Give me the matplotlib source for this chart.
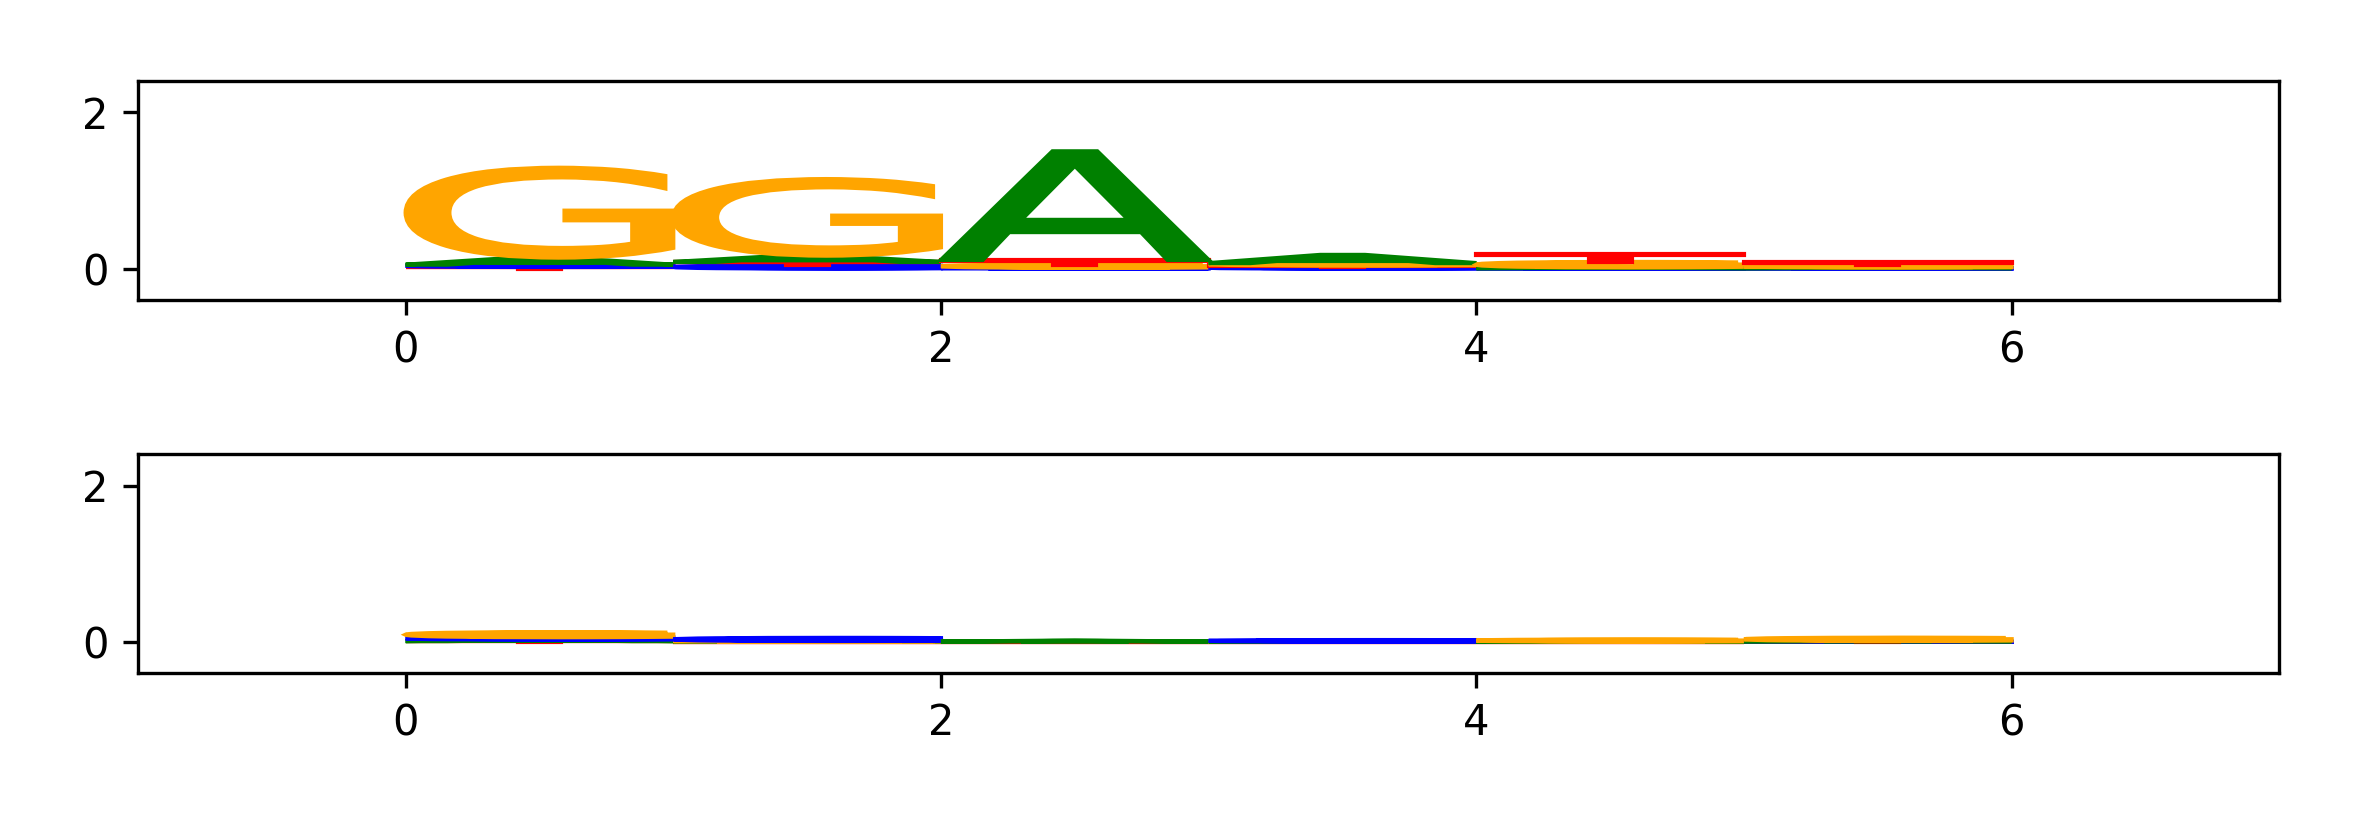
# sequence logo of two motifs, letters drawn as scaled text paths

import numpy as np
import matplotlib
matplotlib.use('Agg')
import matplotlib.pyplot as plt
from matplotlib.textpath import TextPath
from matplotlib.patches import PathPatch
from matplotlib.font_manager import FontProperties
from matplotlib.transforms import Affine2D

letters = ['A', 'C', 'G', 'T']
letter_colors = {'A': 'green', 'C': 'blue', 'G': 'orange', 'T': 'red'}
positions = [0, 1, 2, 3, 4, 5]

# heights per letter, one value per position (top motif)
top_A = [0.09, 0.08, 1.39, 0.105, 0.01, 0.01]
top_C = [0.03, 0.04, 0.01, 0.02, 0.005, 0.005]
top_G = [1.15, 0.98, 0.04, 0.03, 0.07, 0.025]
top_T = [0.02, 0.045, 0.06, 0.02, 0.10, 0.04]

# bottom motif
bot_A = [0.02, 0.005, 0.012, 0.002, 0.003, 0.006]
bot_C = [0.03, 0.04, 0.001, 0.02, 0.001, 0.003]
bot_G = [0.065, 0.005, 0.001, 0.001, 0.025, 0.04]
bot_T = [0.01, 0.002, 0.002, 0.001, 0.001, 0.005]

xticks = [0, 2, 4, 6]
yticks = [0, 2]

fp = FontProperties(family='DejaVu Sans')


def draw_letter(ax, letter, x, y, h):
    tp = TextPath((0, 0), letter, size=1, prop=fp)
    bb = tp.get_extents()
    tr = (Affine2D()
          .translate(-bb.x0, -bb.y0)
          .scale(1.0 / bb.width, h / bb.height)
          .translate(x, y))
    path = tr.transform_path(tp)
    c = letter_colors[letter]
    patch = PathPatch(path, facecolor=c, edgecolor=c, lw=1.0)
    ax.add_patch(patch)


def draw_logo(ax, heights):
    for i, pos in enumerate(positions):
        col = [(heights[l][i], l) for l in letters]
        col.sort()
        bottom = 0.0
        for h, l in col:
            draw_letter(ax, l, pos, bottom, h)
            bottom += h
    ax.set_xlim(-1, 7)
    ax.set_ylim(-0.4, 2.4)
    ax.set_xticks(xticks)
    ax.set_yticks(yticks)


fig = plt.figure(figsize=(2362 / 300, 826 / 300), dpi=300)
ax1 = fig.add_axes([0.0584, 0.637, 0.9066, 0.265])
ax2 = fig.add_axes([0.0584, 0.185, 0.9066, 0.265])

draw_logo(ax1, {'A': top_A, 'C': top_C, 'G': top_G, 'T': top_T})
draw_logo(ax2, {'A': bot_A, 'C': bot_C, 'G': bot_G, 'T': bot_T})

fig.savefig('out.png', dpi=300)
